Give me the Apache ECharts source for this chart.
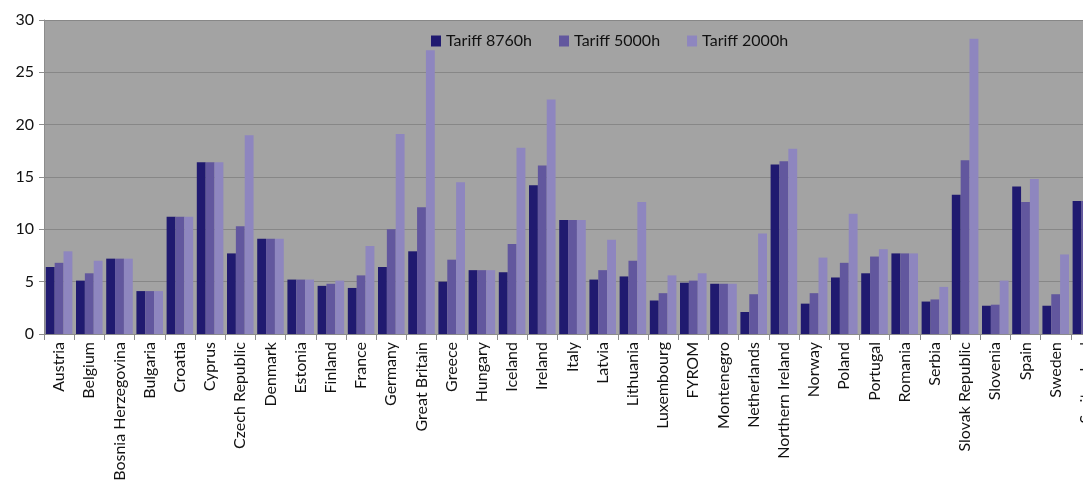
<!DOCTYPE html>
<html>
<head>
<meta charset="utf-8">
<script src="https://cdn.jsdelivr.net/npm/echarts@6/dist/echarts.min.js"></script>
<style>
  html, body { margin: 0; padding: 0; background: #fff; }
  #chart { width: 1083px; height: 488px; }
</style>
</head>
<body>
<div id="chart"></div>
<script>
// countries on the x axis
const countries = ['Austria', 'Belgium', 'Bosnia Herzegovina', 'Bulgaria', 'Croatia', 'Cyprus',
  'Czech Republic', 'Denmark', 'Estonia', 'Finland', 'France', 'Germany', 'Great Britain',
  'Greece', 'Hungary', 'Iceland', 'Ireland', 'Italy', 'Latvia', 'Lithuania', 'Luxembourg',
  'FYROM', 'Montenegro', 'Netherlands', 'Northern Ireland', 'Norway', 'Poland', 'Portugal',
  'Romania', 'Serbia', 'Slovak Republic', 'Slovenia', 'Spain', 'Sweden', 'Switzerland']

// tariffs
const tariff8760 = [6.4, 5.1, 7.2, 4.1, 11.2, 16.4, 7.7, 9.1, 5.2, 4.6, 4.4, 6.4, 7.9,
  5.0, 6.1, 5.9, 14.2, 10.9, 5.2, 5.5, 3.2, 4.9, 4.8, 2.1, 16.2, 2.9, 5.4, 5.8,
  7.7, 3.1, 13.3, 2.7, 14.1, 2.7, 12.7]
const tariff5000 = [6.8, 5.8, 7.2, 4.1, 11.2, 16.4, 10.3, 9.1, 5.2, 4.8, 5.6, 10.0, 12.1,
  7.1, 6.1, 8.6, 16.1, 10.9, 6.1, 7.0, 3.9, 5.1, 4.8, 3.8, 16.5, 3.9, 6.8, 7.4,
  7.7, 3.3, 16.6, 2.8, 12.6, 3.8, 12.7]
const tariff2000 = [7.9, 7.0, 7.2, 4.1, 11.2, 16.4, 19.0, 9.1, 5.2, 5.1, 8.4, 19.1, 27.1,
  14.5, 6.1, 17.8, 22.4, 10.9, 9.0, 12.6, 5.6, 5.8, 4.8, 9.6, 17.7, 7.3, 11.5, 8.1,
  7.7, 4.5, 28.2, 5.1, 14.8, 7.6, 12.7]

const yTicks = [0, 5, 10, 15, 20, 25, 30]

const myChart = echarts.init(document.getElementById('chart'))
const font = 'Lato, "Liberation Sans", sans-serif'

const bar = (name, data, color) => ({
  name: name,
  type: 'bar',
  data: data,
  barGap: '0%',
  barCategoryGap: '12%',
  itemStyle: { color: color },
  emphasis: { disabled: true }
})

myChart.setOption({
  animation: false,
  textStyle: { fontFamily: font },
  grid: {
    left: 44,
    right: -18, // the last country is cut off at the right edge
    top: 20,
    bottom: 154,
    show: true,
    backgroundColor: '#a3a3a3',
    borderWidth: 0,
    outerBoundsMode: 'none'
  },
  legend: {
    left: 426,
    top: 28,
    itemWidth: 10,
    itemHeight: 11,
    itemGap: 27,
    icon: 'rect',
    textStyle: { fontFamily: font, fontSize: 16, color: '#111' },
    data: ['Tariff 8760h', 'Tariff 5000h', 'Tariff 2000h']
  },
  xAxis: {
    type: 'category',
    data: countries,
    axisLine: { lineStyle: { color: '#8c8c8c' } },
    axisTick: { show: true, length: 6, lineStyle: { color: '#8c8c8c' } },
    axisLabel: {
      interval: 0,
      rotate: 90,
      margin: 8,
      fontSize: 16,
      color: '#111',
      fontFamily: font
    }
  },
  yAxis: {
    type: 'value',
    min: yTicks[0],
    max: yTicks[yTicks.length - 1],
    interval: 5,
    axisLine: { show: true, lineStyle: { color: '#8c8c8c' } },
    axisTick: { show: true, length: 5, lineStyle: { color: '#8c8c8c' } },
    axisLabel: { fontSize: 16, color: '#111', margin: 10, fontFamily: font },
    splitLine: { lineStyle: { color: '#878787', width: 1 } }
  },
  series: [
    bar('Tariff 8760h', tariff8760, '#201a70'),
    bar('Tariff 5000h', tariff5000, '#62579e'),
    bar('Tariff 2000h', tariff2000, '#8e86bf')
  ]
})
</script>
</body>
</html>
